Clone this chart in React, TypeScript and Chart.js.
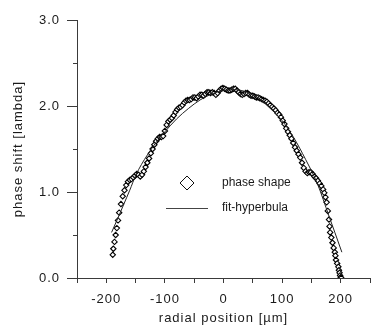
import React, { useEffect, useRef } from "react";
import { Chart, registerables } from "chart.js";

Chart.register(...registerables);

// measured phase shape (radial position µm, phase shift lambda)
const phaseX = [
  -189, -188, -186, -184, -182, -180, -178, -175, -172, -169, -166, -163, -160, -157, -154, -151, -148, -145, -142, -139,
  -136, -133, -130, -127, -124, -121, -118, -115, -112, -109, -106, -103, -100, -97, -94, -91, -88, -85, -82, -79,
  -76, -73, -70, -67, -64, -61, -58, -55, -52, -49, -46, -43, -40, -37, -34, -31, -28, -25, -22, -19,
  -16, -13, -10, -7, -4, -1, 2, 5, 8, 11, 14, 17, 20, 23, 26, 29, 32, 35, 38, 41,
  44, 47, 50, 53, 56, 59, 62, 65, 68, 71, 74, 77, 80, 83, 86, 89, 92, 95, 98, 101,
  104, 107, 110, 113, 116, 119, 122, 125, 128, 131, 134, 137, 140, 143, 146, 149, 152, 155, 158, 161,
  164, 167, 170, 172, 174, 176, 178, 180, 181, 182, 184, 186, 188, 190, 191, 192, 194, 196, 197, 198,
  199, 200, 201,
];
const phaseY = [
  0.27, 0.34, 0.42, 0.5, 0.58, 0.67, 0.76, 0.86, 0.95, 1.02, 1.08, 1.12, 1.14, 1.15, 1.17, 1.19, 1.21, 1.2, 1.18, 1.2,
  1.24, 1.29, 1.34, 1.39, 1.45, 1.5, 1.55, 1.59, 1.62, 1.64, 1.64, 1.65, 1.71, 1.78, 1.82, 1.84, 1.86, 1.89, 1.93, 1.96,
  1.98, 1.99, 2.01, 2.04, 2.06, 2.07, 2.07, 2.08, 2.1, 2.1, 2.09, 2.11, 2.13, 2.13, 2.12, 2.14, 2.16, 2.16, 2.15, 2.16,
  2.15, 2.13, 2.15, 2.18, 2.2, 2.21, 2.2, 2.19, 2.18, 2.18, 2.19, 2.2, 2.2, 2.18, 2.16, 2.14, 2.13, 2.14, 2.15, 2.15,
  2.13, 2.12, 2.12, 2.11, 2.1, 2.1, 2.09, 2.08, 2.07, 2.06, 2.05, 2.03, 2.01, 1.99, 1.97, 1.95, 1.92, 1.9, 1.87, 1.83,
  1.79, 1.74, 1.7, 1.66, 1.62, 1.57, 1.52, 1.48, 1.44, 1.4, 1.34, 1.28, 1.24, 1.22, 1.23, 1.23, 1.21, 1.18, 1.16, 1.13,
  1.1, 1.07, 1.03, 0.99, 0.94, 0.88, 0.78, 0.68, 0.6, 0.53, 0.47, 0.41, 0.35, 0.3, 0.26, 0.21, 0.17, 0.13, 0.09, 0.06,
  0.03, 0.01, 0.0,
];

// fit-hyperbula curve
const fitX = [-191, -180, -170, -160, -150, -140, -130, -120, -110, -100, -80, -60, -40, -20, 0, 20, 40, 60, 80, 100, 120, 140, 160, 180, 190, 202];
const fitY = [0.53, 0.7, 0.86, 1.02, 1.19, 1.32, 1.43, 1.53, 1.62, 1.7, 1.85, 1.97, 2.07, 2.14, 2.18, 2.19, 2.16, 2.09, 1.97, 1.83, 1.63, 1.38, 1.1, 0.72, 0.53, 0.3];

const xTicks = [-250, -200, -150, -100, -50, 0, 50, 100, 150, 200, 250];
const yTicks = [0, 1, 2, 3];
const yMinorTicks = [0.5, 1.5, 2.5];

const seriesNames = ["phase shape", "fit-hyperbula"];
const xTitle = "radial position [µm]";
const yTitle = "phase shift [lambda]";

const AXIS = "#3a3a3a";
const TEXT = "#1a1a1a";
const FONT = "'Liberation Sans', Arial, sans-serif";

const stylePlugin = {
  id: "stylePlugin",
  beforeUpdate(chart: any) {
    chart.ctx.letterSpacing = "1px";
  },
  beforeDraw(chart: any) {
    chart.ctx.letterSpacing = "1px";
  },
  afterDraw(chart: any) {
    const { ctx, chartArea } = chart;
    const y = chart.scales.y;
    ctx.save();
    ctx.letterSpacing = "0px";
    ctx.strokeStyle = AXIS;
    ctx.lineWidth = 1;
    yMinorTicks.forEach((v) => {
      const py = Math.round(y.getPixelForValue(v)) + 0.5;
      ctx.beginPath();
      ctx.moveTo(chartArea.left - 4, py);
      ctx.lineTo(chartArea.left, py);
      ctx.stroke();
    });
    // legend
    const lx = chartArea.left;
    const ly = chartArea.top;
    const dx = lx + 110;
    const dy = ly + 163;
    const r = 7;
    ctx.strokeStyle = "#111";
    ctx.fillStyle = "#fff";
    ctx.beginPath();
    ctx.moveTo(dx, dy - r);
    ctx.lineTo(dx + r, dy);
    ctx.lineTo(dx, dy + r);
    ctx.lineTo(dx - r, dy);
    ctx.closePath();
    ctx.fill();
    ctx.stroke();
    ctx.strokeStyle = "#444";
    ctx.beginPath();
    ctx.moveTo(lx + 89, ly + 188.5);
    ctx.lineTo(lx + 131, ly + 188.5);
    ctx.stroke();
    ctx.fillStyle = TEXT;
    ctx.font = `12px ${FONT}`;
    ctx.textBaseline = "middle";
    ctx.textAlign = "left";
    ctx.fillText(seriesNames[0], lx + 145, dy);
    ctx.fillText(seriesNames[1], lx + 145, ly + 188);
    ctx.restore();
  },
};

export default function App() {
  const ref = useRef<HTMLCanvasElement | null>(null);
  useEffect(() => {
    if (!ref.current) return;
    const chart = new Chart(ref.current, {
      type: "scatter",
      data: {
        datasets: [
          {
            label: seriesNames[1],
            data: fitX.map((x, i) => ({ x, y: fitY[i] })),
            showLine: true,
            borderColor: "#222",
            borderWidth: 1,
            pointRadius: 0,
            cubicInterpolationMode: "monotone",
          } as any,
          {
            label: seriesNames[0],
            data: phaseX.map((x, i) => ({ x, y: phaseY[i] })),
            pointStyle: "rectRot",
            pointRadius: 2.7,
            pointBorderWidth: 1.1,
            pointBackgroundColor: "#fff",
            pointBorderColor: "#000",
            showLine: false,
          } as any,
        ],
      },
      options: {
        animation: false,
        responsive: true,
        maintainAspectRatio: false,
        layout: { padding: { top: 20, right: 0, left: 0, bottom: 0 } },
        plugins: { legend: { display: false }, tooltip: { enabled: false } },
        scales: {
          x: {
            type: "linear",
            min: -250,
            max: 250,
            afterBuildTicks: (s: any) => {
              s.ticks = xTicks.map((value) => ({ value }));
            },
            afterFit: (s: any) => {
              s.height = 48;
            },
            ticks: {
              callback: (v: any) => (Number(v) % 100 === 0 ? String(v) : ""),
              color: TEXT,
              font: { family: FONT, size: 13 },
              padding: 9,
              maxRotation: 0,
              autoSkip: false,
            },
            grid: { drawOnChartArea: false, tickLength: 5, color: AXIS },
            border: { display: true, color: AXIS },
            title: {
              display: true,
              text: xTitle,
              color: TEXT,
              font: { family: FONT, size: 13 },
              padding: { top: 0, bottom: 0 },
            },
          },
          y: {
            type: "linear",
            min: 0,
            max: 3,
            afterBuildTicks: (s: any) => {
              s.ticks = yTicks.map((value) => ({ value }));
            },
            afterFit: (s: any) => {
              s.width = 77;
            },
            ticks: {
              callback: (v: any) => Number(v).toFixed(1),
              color: TEXT,
              font: { family: FONT, size: 13 },
              padding: 7,
            },
            grid: { drawOnChartArea: false, tickLength: 10, color: AXIS },
            border: { display: true, color: AXIS },
            title: {
              display: true,
              text: yTitle,
              color: TEXT,
              font: { family: FONT, size: 13 },
              padding: { top: 11, bottom: 0 },
            },
          },
        },
      },
      plugins: [stylePlugin],
    });
    return () => chart.destroy();
  }, []);
  return (
    <div style={{ position: "fixed", left: 0, top: 0, width: 379, height: 326 }}>
      <canvas ref={ref} />
    </div>
  );
}
